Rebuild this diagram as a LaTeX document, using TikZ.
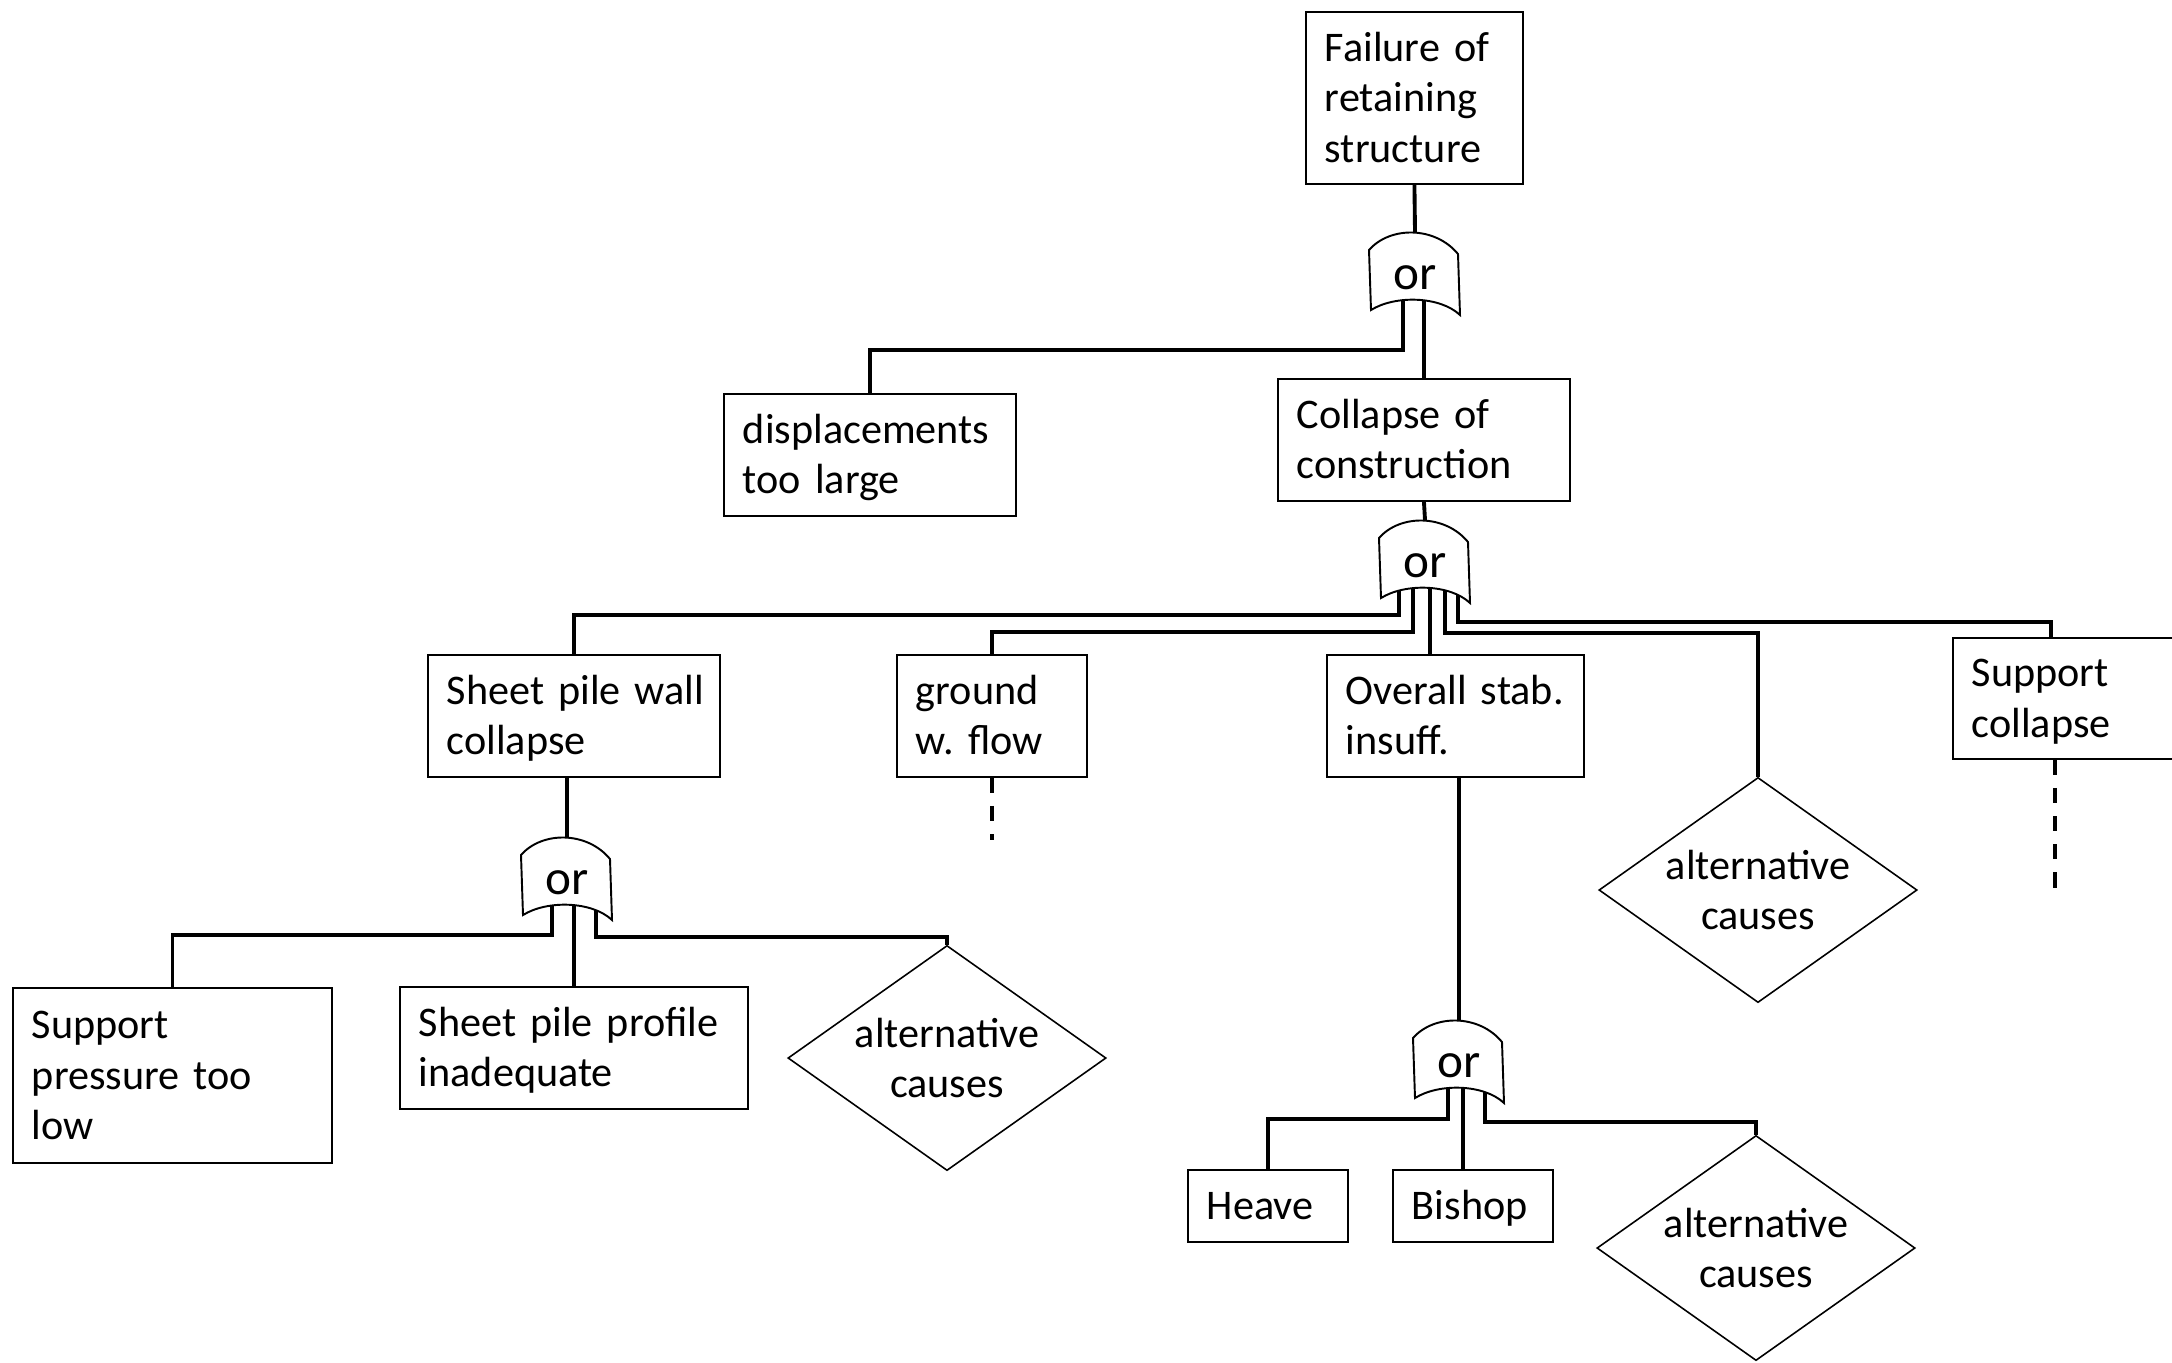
\documentclass[tikz,border=0pt]{standalone}
\usepackage{fontspec}
\setmainfont{Carlito}
\usetikzlibrary{shapes.geometric,calc,backgrounds}
\frenchspacing

\tikzset{
  box/.style 2 args={draw, line width=0.5pt, anchor=north west, align=left,
    inner xsep=0.19cm, inner ysep=0pt, text width=#1, minimum height=#2,
    font=\fontsize{12}{14.4}\selectfont,
    % same first-line height and last-line depth in every box
    execute at begin node={\rule{0pt}{11pt}},
    execute at end node={\rule[-3.2pt]{0pt}{3.2pt}}},
  cause/.style={draw, diamond, aspect=1.41, line width=0.45pt, minimum width=3.18cm,
    minimum height=2.25cm, inner sep=0pt, align=center,
    font=\fontsize{12}{14.4}\selectfont},
  wire/.style={line width=1.1pt},
  unfinished/.style={wire, dash pattern=on 4.3pt off 3.7pt},
  orgate/.pic={
    \draw[line width=0.55pt, fill=white] (-46,18) .. controls (-25,-6) and (20,-6) .. (43,22)
      -- (45,83) .. controls (25,64) and (-20,63) .. (-44,78) -- cycle;
    \node[inner sep=0pt, font=\fontsize{14}{16}\selectfont] (-t) at (0,46) {or};
    \coordinate (-in) at (0,0);
    \coordinate (-b) at (0,60);
  }
}

\begin{document}
\begin{tikzpicture}[x=0.01cm, y=-0.01cm]
  \useasboundingbox (0,0) rectangle (2172,1362);

  % events
  \node[box={1.79cm}{1.72cm}] (fail) at (1305,11) {Failure of\\retaining\\structure};
  \node[box={2.54cm}{1.22cm}] (disp) at (723,393) {displacements\\too large};
  \node[box={2.54cm}{1.22cm}] (coll) at (1277,378) {Collapse of\\construction};
  \node[box={2.54cm}{1.22cm}] (sheet) at (427,654) {\mbox{Sheet pile wall}\\collapse};
  \node[box={1.52cm}{1.22cm}] (ground) at (896,654) {ground\\w. flow};
  \node[box={2.19cm}{1.22cm}] (overall) at (1326,654) {Overall stab.\\insuff.};
  \node[box={2.02cm}{1.21cm}] (supcol) at (1952,637) {Support\\collapse};
  \node[box={2.81cm}{1.75cm}] (suppres) at (12,987) {Support\\pressure too\\low};
  \node[box={3.10cm}{1.22cm}] (profile) at (399,986) {\mbox{Sheet pile profile}\\inadequate};
  \node[box={1.22cm}{0.72cm}] (heave) at (1187,1169) {Heave};
  \node[box={1.22cm}{0.72cm}] (bishop) at (1392,1169) {Bishop};
  \node[cause] (alt1) at (947,1058) {alternative\\causes};
  \node[cause] (alt2) at (1758,890) {alternative\\causes};
  \node[cause] (alt3) at (1756,1248) {alternative\\causes};

  % or gates
  \pic (g1) at (1415,232) {orgate};
  \pic (g2) at (1425,520) {orgate};
  \pic (g3) at (567,837) {orgate};
  \pic (g4) at (1459,1020) {orgate};

  \coordinate (g2c) at ($(g2-b)+(5,0)$);
  \coordinate (g4c) at ($(g4-b)+(4,0)$);
  \coordinate (sc) at ($(supcol.north west)+(99,0)$);
  \coordinate (gwend) at ($(ground.south)+(0,62)$);
  \coordinate (scbot) at ($(supcol.south west)+(103,0)$);
  \coordinate (scend) at ($(scbot)+(0,132)$);

  \begin{scope}[on background layer]
    \draw[wire] (fail.south) -- (g1-in);
    \draw[wire] ($(g1-b)+(-12,0)$) |- ($(disp.north)+(0,-43)$) -- (disp.north);
    \draw[wire] (coll.north) -- (coll.north |- g1-b);

    \draw[wire] (coll.south) -- (g2-in);
    \draw[wire] ($(g2-b)+(-26,0)$) |- ($(sheet.north)+(0,-39)$) -- (sheet.north);
    \draw[wire] ($(g2-b)+(-12,0)$) |- ($(ground.north)+(0,-22)$) -- (ground.north);
    \draw[wire] (g2c) -- (g2c |- overall.north);
    \draw[wire] ($(g2-b)+(20,0)$) |- ($(alt2.north)+(0,-144)$) -- (alt2.north);
    \draw[wire] ($(g2-b)+(33,0)$) |- ($(sc)+(0,-15)$) -- (sc);

    \draw[wire] (g3-in) -- (g3-in |- sheet.south);
    \draw[wire] ($(g3-b)+(-15,0)$) |- ($(suppres.north)+(0,-52)$) -- (suppres.north);
    \draw[wire] (profile.north) -- (profile.north |- g3-b);
    \draw[wire] ($(g3-b)+(29,0)$) |- ($(alt1.north)+(0,-8)$) -- (alt1.north);

    \draw[wire] (g4-in) -- (g4-in |- overall.south);
    \draw[wire] ($(g4-b)+(-11,0)$) |- ($(heave.north)+(0,-50)$) -- (heave.north);
    \draw[wire] (g4c) -- (g4c |- bishop.north);
    \draw[wire] ($(g4-b)+(26,0)$) |- ($(alt3.north)+(0,-13)$) -- (alt3.north);
  \end{scope}

  % branches not developed further
  \draw[unfinished] (ground.south) -- (gwend);
  \draw[unfinished] (scbot) -- (scend);
\end{tikzpicture}
\end{document}
